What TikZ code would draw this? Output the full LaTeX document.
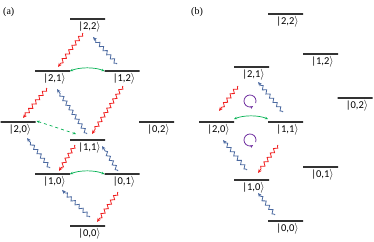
\documentclass[tikz,border=0pt]{standalone}
\usepackage{fontspec}
\setmainfont{Carlito}
\newfontfamily\serf{Liberation Serif}
\usetikzlibrary{arrows.meta,positioning,calc,decorations.pathmorphing}
\definecolor{wred}{RGB}{240,30,30}
\definecolor{wblue}{RGB}{75,105,160}
\definecolor{wgreen}{RGB}{0,176,80}
\definecolor{wpurple}{RGB}{112,48,160}
\begin{document}
\begin{tikzpicture}[x=1pt,y=-1pt,font=\fontsize{10.5}{12}\selectfont,
lvl/.style={draw=black!80,line width=1.4pt,minimum width=35pt,minimum height=0pt,inner sep=0pt,outer sep=0pt},
lab/.style={inner sep=0pt,xshift=2pt},
wave/.style={line width=.8pt,-{Stealth[length=4pt,width=3.5pt]},decorate,decoration={snake,amplitude=1.7pt,segment length=5.5pt,pre length=1pt,post length=3.5pt}},
pump/.style={wave,wblue},emit/.style={wave,wred},
hop/.style={wgreen,line width=.7pt,{Stealth[length=3pt,width=2.5pt]}-{Stealth[length=3pt,width=2.5pt]}}]
\useasboundingbox(0,0)rectangle(374,241);
\node[anchor=west,inner sep=0pt,font=\serf\fontsize{10}{12}\selectfont](pa)at(3,12){(a)};
\node[anchor=west,inner sep=0pt,font=\serf\fontsize{10}{12}\selectfont](pb)at(191,12){(b)};
\foreach \n/\x/\y/\t in {a22/87.5/19/{2,2},a21/52.5/71/{2,1},a12/122/71/{1,2},a20/18/122/{2,0},a02/156.5/122/{0,2},
a11/87.5/140/{1,1},a10/52.5/174/{1,0},a01/122/174/{0,1},a00/87.5/226/{0,0},
b22/285.5/14/{2,2},b12/320.5/54/{1,2},b21/251.5/67/{2,1},b02/355/98/{0,2},b20/216.5/122/{2,0},
b11/285.5/122/{1,1},b01/320.5/167/{0,1},b10/251.5/180/{1,0},b00/285.5/221/{0,0}}{
\node[lvl](\n)at(\x,\y){};
\node[lab,below=2pt of \n](\n l){|\t$\rangle$};}
\draw[emit]($(a22)+(-4.5,14)$)--($(a21)+(5.5,-4)$);
\draw[pump]($(a12)+(-5,-7)$)--($(a22)+(5.5,18)$);
\draw[hop](a21.east)..controls +(10,-4) and +(-10,-4)..(a12.west);
\draw[emit]($(a21)+(-5.5,17)$)--($(a20)+(5,-4)$);
\draw[pump]($(a11)+(-.5,-6)$)--($(a21)+(4.5,18)$);
\draw[emit]($(a12)+(1,15)$)--($(a11)+(4.5,-6)$);
\draw[hop,dashed]($(a20.east)+(1,-1)$)--($(a11.west)+(6,-6)$);
\draw[pump]($(a10)+(-2.5,-6)$)--($(a20)+(9,16)$);
\draw[emit]($(a11)+(-12.5,5)$)--($(a10)+(6.5,-3)$);
\draw[pump]($(a01)+(-4,-3)$)--($(a11)+(14.5,6)$);
\draw[hop](a10.east)..controls +(10,-4) and +(-10,-4)..(a01.west);
\draw[pump]($(a00)+(2.5,-9)$)--($(a10)+(9.5,16)$);
\draw[emit]($(a01)+(-4,18)$)--($(a00)+(9.5,-4)$);
\draw[emit]($(b21)+(-13.5,19)$)--($(b20)+(2.5,-11)$);
\draw[pump]($(b11)+(-2.5,-10)$)--($(b21)+(6.5,15)$);
\draw[hop]($(b20.east)+(0,-3)$)..controls +(10,-4) and +(-10,-4)..($(b11.west)+(0,-3)$);
\draw[pump]($(b10)+(-4.5,-10)$)--($(b20)+(6.5,18)$);
\draw[emit]($(b11)+(-7.5,23)$)--($(b10)+(6.5,-7)$);
\draw[pump]($(b00)+(-10.5,-6)$)--($(b10)+(6.5,13)$);
\foreach \y in {101,140}
\draw[wpurple,line width=.8pt,-{Stealth[length=3pt,width=3pt]}](250,\y)++(20:6)arc[start angle=20,end angle=-300,radius=6];
\end{tikzpicture}
\end{document}
